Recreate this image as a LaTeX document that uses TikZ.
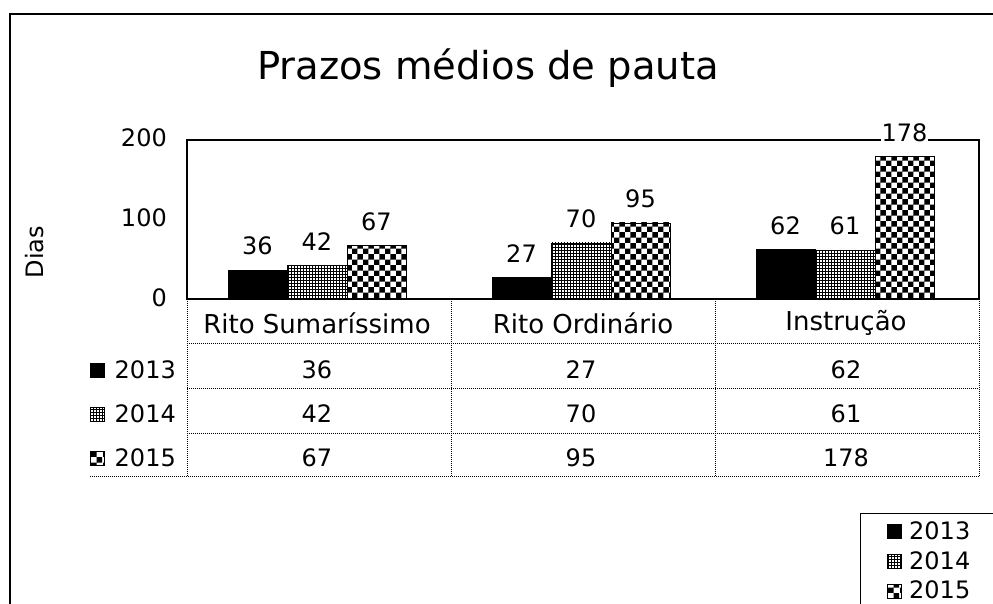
\documentclass[tikz,border=0pt]{standalone}
\usepackage{fontspec}
\setmainfont{DejaVu Sans}
\usetikzlibrary{patterns}
\newcommand\mybar[4]{%
  \draw[#4] (#1,299) rectangle (#2,{299-0.8*#3});
  \node[txt, fill=white] at ({(#1+#2)/2},{299-0.8*#3-24}) {#3};}
\begin{document}
\begin{tikzpicture}[x=1pt,y=-1pt,
  txt/.style={font=\fontsize{24}{28}\selectfont, inner sep=1pt},
  hdr/.style={font=\fontsize{26}{30}\selectfont, inner sep=1pt},
  ttl/.style={font=\fontsize{38.5}{46}\selectfont},
  frame/.style={line width=1.3pt},
  grd/.style={densely dotted, line width=1pt},
  y13/.style={draw=black, line width=0.8pt, fill=black},
  y14/.style={draw=black, line width=0.8pt, pattern=grid, pattern color=black},
  y15/.style={draw=black, line width=0.8pt, pattern=checkerboard, pattern color=black},
  ]
\useasboundingbox (0,0) rectangle (993,604);
\fill[white] (0,0) rectangle (993,604);
% outer frame
\draw[frame] (10,604) -- (10,14) -- (993,14);
\node[ttl] (title) at (488,68) {Prazos médios de pauta};
\node[txt, rotate=90] (dias) at (35,252) {Dias};
% plot area
\draw[frame] (187,299) rectangle (979,140);
\node[txt, anchor=east] (t200) at (168,138) {200};
\node[txt, anchor=east] (t100) at (168,218) {100};
\node[txt, anchor=east] (t0) at (168,298) {0};
% bars
\mybar{228}{287}{36}{y13}
\mybar{287}{347}{42}{y14}
\mybar{347}{406}{67}{y15}
\mybar{492}{551}{27}{y13}
\mybar{551}{611}{70}{y14}
\mybar{611}{670}{95}{y15}
\mybar{756}{815}{62}{y13}
\mybar{815}{875}{61}{y14}
\mybar{875}{934}{178}{y15}
% data table grid
\foreach \yy in {343,388,433}{\draw[grd] (187,\yy) -- (979,\yy);}
\draw[grd] (90,476) -- (979,476);
\foreach \xx in {187,451,715,979}{\draw[grd] (\xx,299) -- (\xx,476);}
% header
\node[hdr] (c1) at (317,323) {Rito Sumaríssimo};
\node[hdr] (c2) at (583,323) {Rito Ordinário};
\node[hdr] (c3) at (846,323) {Instrução};
% row labels
\node[txt, anchor=east] (r13) at (177,370) {2013};
\node[txt, anchor=east] (r14) at (177,414) {2014};
\node[txt, anchor=east] (r15) at (177,458) {2015};
\draw[y13] (90,363) rectangle (104,377);
\draw[y14] (90,407) rectangle (104,421);
\draw[y15] (90,451) rectangle (104,465);
% values
\node[txt] (v11) at (317,370) {36};
\node[txt] (v12) at (317,414) {42};
\node[txt] (v13) at (317,458) {67};
\node[txt] (v21) at (581,370) {27};
\node[txt] (v22) at (581,414) {70};
\node[txt] (v23) at (581,458) {95};
\node[txt] (v31) at (846,370) {62};
\node[txt] (v32) at (846,414) {61};
\node[txt] (v33) at (846,458) {178};
% legend
\draw[line width=1pt] (860,604) -- (860,513) -- (993,513);
\draw[y13] (887,524) rectangle (901,538);
\draw[y14] (887,554) rectangle (901,568);
\draw[y15] (887,584) rectangle (901,598);
\node[txt, anchor=west] (l13) at (908,531) {2013};
\node[txt, anchor=west] (l14) at (908,561) {2014};
\node[txt, anchor=west] (l15) at (908,590) {2015};
\end{tikzpicture}
\end{document}
